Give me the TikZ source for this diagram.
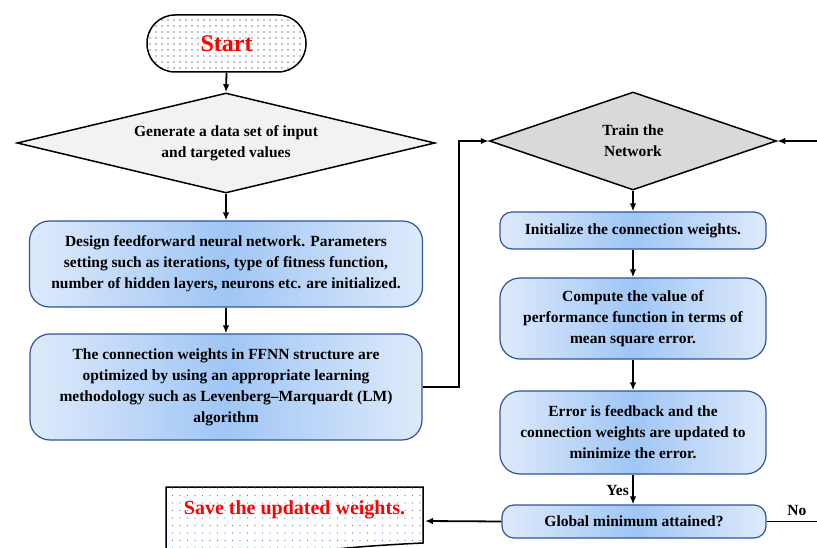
\documentclass[tikz,border=0pt]{standalone}
\usepackage{fontspec}
\setmainfont{Liberation Serif}
\usetikzlibrary{shapes.geometric,arrows.meta,patterns.meta}
\definecolor{bordblue}{RGB}{47,85,151}
\definecolor{gin}{RGB}{160,198,245}
\definecolor{gout}{RGB}{222,234,251}
\definecolor{dgray}{RGB}{217,217,217}
\definecolor{lgray}{RGB}{242,242,242}
\definecolor{dotblue}{RGB}{80,120,215}

\begin{document}

\begin{tikzpicture}[x=1pt,y=-1pt,
  arr/.style={-{Latex[length=8pt,width=6.5pt]}, line width=1.8pt},
  ln/.style={line width=1.8pt},
  txt/.style={font=\bfseries\fontsize{15.5}{21}\selectfont, align=center},
  bluebox/.style={txt, draw=bordblue, line width=1.2pt, rounded corners=20pt,
    left color=gout, right color=gout, middle color=gin, inner sep=0pt},
  dia/.style={txt, diamond, draw, line width=1.5pt, inner sep=0pt, aspect=3}
]
\useasboundingbox (0,0) rectangle (817,548);
\clip (0,0) rectangle (817,548);

% Start
\node[draw, line width=1.5pt, rounded corners=28pt, minimum width=159pt, minimum height=57pt,
  pattern={Dots[radius=0.6pt,distance=6pt]}, pattern color=black] (start) at (226.5,43.5) {};
\node[font=\bfseries\fontsize{24}{26}\selectfont, text=red] at (start) {Start};

% Left column
\node[dia, fill=lgray, minimum width=418pt, minimum height=100pt] (d1) at (226,143)
  {Generate a data set of input\\and targeted values};
\node[bluebox, minimum width=393pt, minimum height=86pt] (b1) at (226,264)
  {Design feedforward neural network. Parameters\\setting such as iterations, type of fitness function,\\number of hidden layers, neurons etc. are initialized.};
\node[bluebox, minimum width=392pt, minimum height=106pt] (b2) at (226,387)
  {The connection weights in FFNN structure are\\optimized by using an appropriate learning\\methodology such as Levenberg--Marquardt (LM)\\algorithm};

% Right column
\node[dia, fill=dgray, minimum width=287pt, minimum height=98pt] (d2) at (633,141)
  {Train the\\Network};
\node[bluebox, rounded corners=12pt, minimum width=266pt, minimum height=37pt] (b3) at (633,230.5)
  {Initialize the connection weights.};
\node[bluebox, minimum width=266pt, minimum height=81pt] (b4) at (633,318.5)
  {Compute the value of\\performance function in terms of\\mean square error.};
\node[bluebox, minimum width=266pt, minimum height=83pt] (b5) at (633,432.5)
  {Error is feedback and the\\connection weights are updated to\\minimize the error.};
\node[bluebox, rounded corners=12pt, minimum width=264pt, minimum height=33pt] (b6) at (634,521.5)
  {Global minimum attained?};

% Save box (document shape)
\path[draw, line width=1.5pt, fill=white] (166,487) -- (423,487) -- (423,543)
  .. controls (380,545) and (340,548) .. (300,553) -- (166,560) -- cycle;
\path[pattern={Dots[radius=0.7pt,distance=7.5pt]}, pattern color=dotblue] (166,487) -- (423,487) -- (423,543)
  .. controls (380,545) and (340,548) .. (300,553) -- (166,560) -- cycle;
\node[font=\bfseries\fontsize{20}{22}\selectfont, text=red] (save) at (294.5,510) {Save the updated weights.};
\coordinate (savein) at (425,521);

\coordinate (fbin) at (817,141);
\coordinate (noout) at (817,521.5);

% Connectors
\draw[arr] (start.south) -- (d1.north);
\draw[arr] (d1.south) -- (b1.north);
\draw[arr] (b1.south) -- (b2.north);
\draw[arr] (b2.east) -- ++(36,0) |- (d2.west);
\draw[arr] (fbin) -- (d2.east);
\draw[arr] (d2.south) -- (b3.north);
\draw[arr] (b3.south) -- (b4.north);
\draw[arr] (b4.south) -- (b5.north);
\draw[arr] (b5.south) -- node[left, txt, pos=0.55] {Yes} (b5.south |- b6.north);
\draw[arr] (b6.west) -- (savein);
\draw[ln] (b6.east) -- node[above, txt, pos=0.6, yshift=2pt] {No} (noout);
\end{tikzpicture}

\end{document}
